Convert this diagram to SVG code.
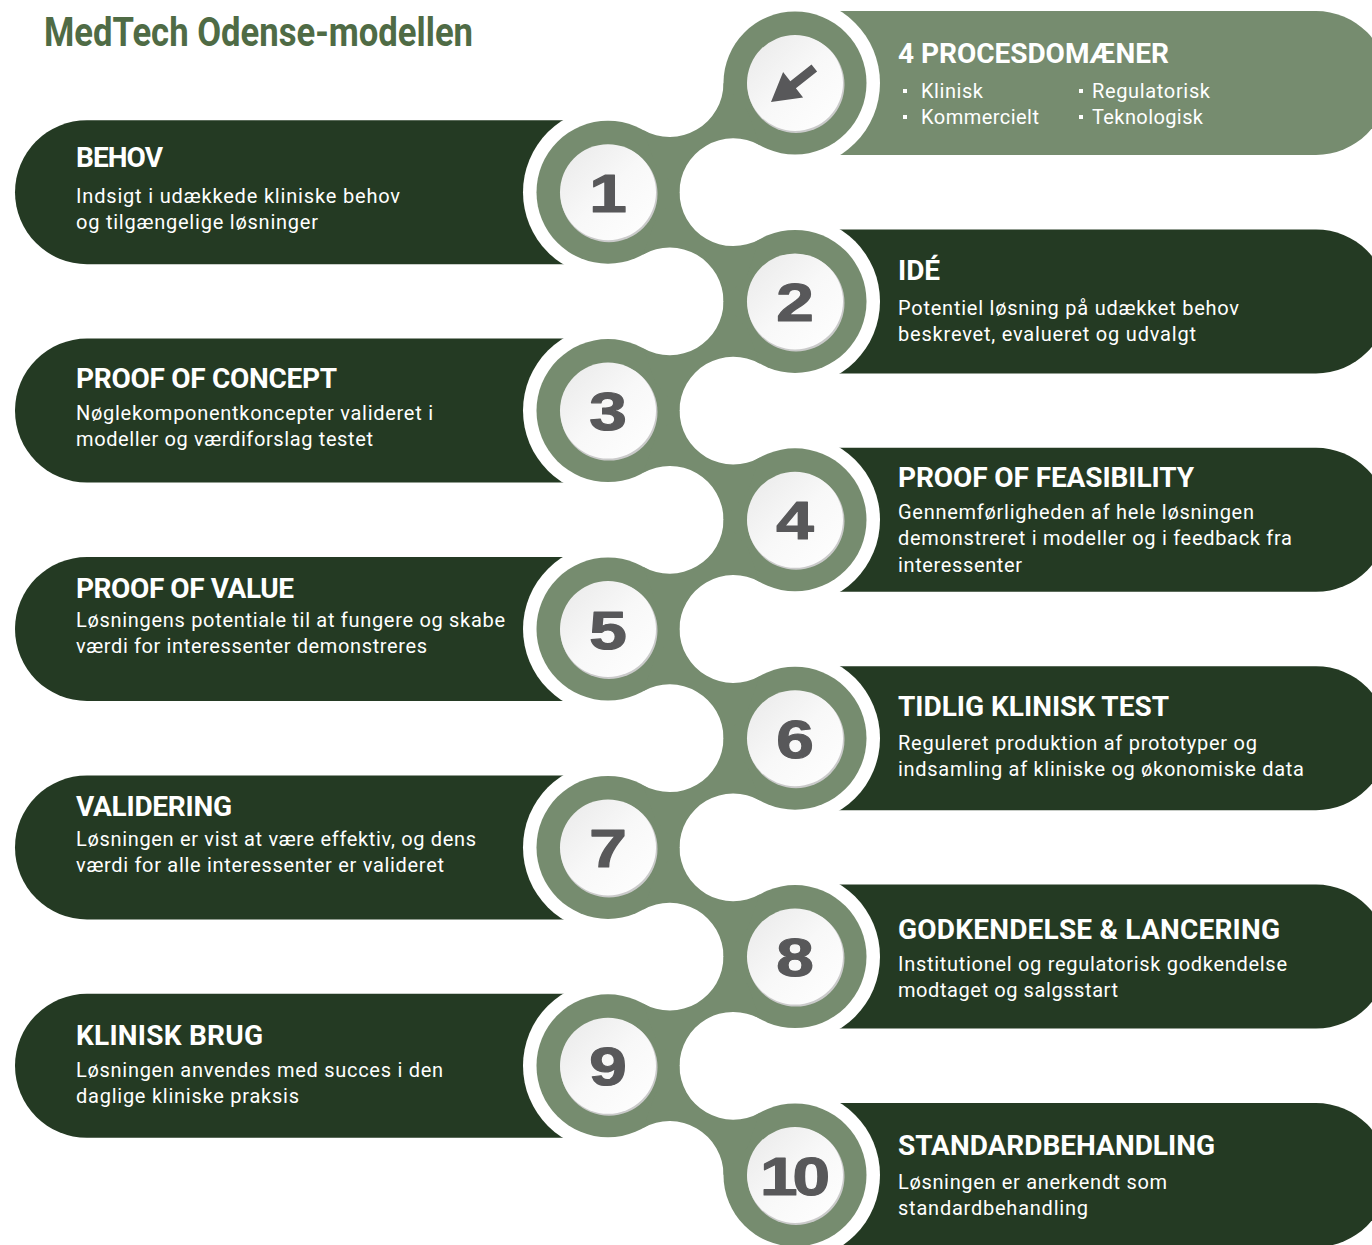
<svg xmlns="http://www.w3.org/2000/svg" xmlns:xlink="http://www.w3.org/1999/xlink" width="1372" height="1245" viewBox="0 0 1372 1245">
  <style>
    .dark { fill: #243a23; }
    .light { fill: #768c6f; }
    .title { font-family: Roboto, "Liberation Sans", sans-serif; font-weight: 700; font-size: 40px; fill: #4f6b45; }
    .head { font-family: Roboto, "Liberation Sans", sans-serif; font-weight: 700; font-size: 28px; fill: #ffffff; }
    .body { font-family: Roboto, "Liberation Sans", sans-serif; font-size: 20px; fill: #ffffff; }
    .num { font-family: "Liberation Sans", Arial, sans-serif; font-weight: 700; font-size: 54px; fill: #58585a; stroke: #58585a; stroke-width: 1.2px; stroke-linejoin: round; text-anchor: middle; }
    .neck { fill: #768c6f; }
    .bullet { fill: #ffffff; }
  </style>
  <defs>
    <linearGradient id="faceFill" x1="0" y1="0" x2="1" y2="1">
      <stop offset="0" stop-color="#e9e9e9"/>
      <stop offset="0.5" stop-color="#f8f8f8"/>
      <stop offset="1" stop-color="#ffffff"/>
    </linearGradient>
    <!-- stage banners, centred vertically on y=0 -->
    <path id="bannerL" d="M608 -72 H87 A72 72 0 0 0 87 72 H608 Z"/>
    <path id="bannerR" d="M795 -72 H1316 A72 72 0 0 1 1316 72 H795 Z"/>
    <!-- numbered dial: white gap, green ring, shaded face -->
    <g id="dial">
      <circle r="85" fill="#ffffff"/>
      <circle r="71.5" fill="#768c6f"/>
      <circle cx="1" cy="1.5" r="48.5" fill="#cacaca"/>
      <circle r="48" fill="url(#faceFill)"/>
    </g>
    <!-- neck from a right-hand dial down to the next left-hand dial -->
    <path id="neckA" d="M747.51 27.74 L759.86 62.27 A53.88 53.88 0 0 0 679.5 109.2 L655.49 81.46 L643.14 46.93 A53.88 53.88 0 0 0 723.5 0 Z"/>
    <!-- neck from a left-hand dial down to the next right-hand dial -->
    <path id="neckB" d="M655.49 27.74 L643.14 62.27 A53.88 53.88 0 0 1 723.5 109.2 L747.51 81.46 L759.86 46.93 A53.88 53.88 0 0 1 679.5 0 Z"/>
  </defs>

  <rect width="1372" height="1245" fill="#ffffff"/>

  <g id="title">
    <text class="title" x="44" y="46" textLength="429" lengthAdjust="spacingAndGlyphs">MedTech Odense-modellen</text>
  </g>

  <g id="node-domains">
    <use xlink:href="#bannerR" y="83" class="light"/>
    <use xlink:href="#dial" x="795" y="83"/>
    <polygon points="771,102 783.1,72 790.3,81.3 811.5,64.6 817.1,71.6 795.9,88.3 803.1,97.6" fill="#58585a"/>
    <text class="head" x="898" y="63" textLength="271">4 PROCESDOMÆNER</text>
    <rect class="bullet" x="903" y="89" width="4" height="4"/>
    <rect class="bullet" x="903" y="115" width="4" height="4"/>
    <rect class="bullet" x="1079" y="89" width="4" height="4"/>
    <rect class="bullet" x="1079" y="115" width="4" height="4"/>
    <text class="body" x="921" y="98" textLength="62">Klinisk</text>
    <text class="body" x="921" y="124" textLength="118">Kommercielt</text>
    <text class="body" x="1092" y="98" textLength="118">Regulatorisk</text>
    <text class="body" x="1092" y="124" textLength="111">Teknologisk</text>
  </g>

  <g id="node-1">
    <use xlink:href="#bannerL" y="192.2" class="dark"/>
    <use xlink:href="#dial" x="608" y="192.2"/>
    <text class="num" transform="translate(608 192.2) scale(1.25 1)" y="19.5">1</text>
    <text class="head" x="76" y="167" textLength="87">BEHOV</text>
    <text class="body" x="76" y="202.5" textLength="324">Indsigt i udækkede kliniske behov</text>
    <text class="body" x="76" y="228.5" textLength="242">og tilgængelige løsninger</text>
  </g>

  <g id="node-2">
    <use xlink:href="#bannerR" y="301.4" class="dark"/>
    <use xlink:href="#dial" x="795" y="301.4"/>
    <text class="num" transform="translate(795 301.4) scale(1.25 1)" y="19.5">2</text>
    <text class="head" x="898" y="280" textLength="42">IDÉ</text>
    <text class="body" x="898" y="314.5" textLength="341">Potentiel løsning på udækket behov</text>
    <text class="body" x="898" y="340.5" textLength="298">beskrevet, evalueret og udvalgt</text>
  </g>

  <g id="node-3">
    <use xlink:href="#bannerL" y="410.6" class="dark"/>
    <use xlink:href="#dial" x="608" y="410.6"/>
    <text class="num" transform="translate(608 410.6) scale(1.25 1)" y="19.5">3</text>
    <text class="head" x="76" y="388" textLength="261">PROOF OF CONCEPT</text>
    <text class="body" x="76" y="419.5" textLength="357">Nøglekomponentkoncepter valideret i</text>
    <text class="body" x="76" y="445.5" textLength="297">modeller og værdiforslag testet</text>
  </g>

  <g id="node-4">
    <use xlink:href="#bannerR" y="519.8" class="dark"/>
    <use xlink:href="#dial" x="795" y="519.8"/>
    <text class="num" transform="translate(795 519.8) scale(1.25 1)" y="19.5">4</text>
    <text class="head" x="898" y="487" textLength="296">PROOF OF FEASIBILITY</text>
    <text class="body" x="898" y="518.5" textLength="356">Gennemførligheden af hele løsningen</text>
    <text class="body" x="898" y="544.5" textLength="394">demonstreret i modeller og i feedback fra</text>
    <text class="body" x="898" y="571.5" textLength="124">interessenter</text>
  </g>

  <g id="node-5">
    <use xlink:href="#bannerL" y="629" class="dark"/>
    <use xlink:href="#dial" x="608" y="629"/>
    <text class="num" transform="translate(608 629) scale(1.25 1)" y="19.5">5</text>
    <text class="head" x="76" y="598" textLength="218">PROOF OF VALUE</text>
    <text class="body" x="76" y="626.5" textLength="429">Løsningens potentiale til at fungere og skabe</text>
    <text class="body" x="76" y="652.5" textLength="351">værdi for interessenter demonstreres</text>
  </g>

  <g id="node-6">
    <use xlink:href="#bannerR" y="738.2" class="dark"/>
    <use xlink:href="#dial" x="795" y="738.2"/>
    <text class="num" transform="translate(795 738.2) scale(1.25 1)" y="19.5">6</text>
    <text class="head" x="898" y="716" textLength="271">TIDLIG KLINISK TEST</text>
    <text class="body" x="898" y="749.5" textLength="359">Reguleret produktion af prototyper og</text>
    <text class="body" x="898" y="775.5" textLength="406">indsamling af kliniske og økonomiske data</text>
  </g>

  <g id="node-7">
    <use xlink:href="#bannerL" y="847.4" class="dark"/>
    <use xlink:href="#dial" x="608" y="847.4"/>
    <text class="num" transform="translate(608 847.4) scale(1.25 1)" y="19.5">7</text>
    <text class="head" x="76" y="816" textLength="156">VALIDERING</text>
    <text class="body" x="76" y="845.5" textLength="400">Løsningen er vist at være effektiv, og dens</text>
    <text class="body" x="76" y="871.5" textLength="368">værdi for alle interessenter er valideret</text>
  </g>

  <g id="node-8">
    <use xlink:href="#bannerR" y="956.6" class="dark"/>
    <use xlink:href="#dial" x="795" y="956.6"/>
    <text class="num" transform="translate(795 956.6) scale(1.25 1)" y="19.5">8</text>
    <text class="head" x="898" y="939" textLength="382">GODKENDELSE &amp; LANCERING</text>
    <text class="body" x="898" y="970.5" textLength="389">Institutionel og regulatorisk godkendelse</text>
    <text class="body" x="898" y="996.5" textLength="220">modtaget og salgsstart</text>
  </g>

  <g id="node-9">
    <use xlink:href="#bannerL" y="1065.8" class="dark"/>
    <use xlink:href="#dial" x="608" y="1065.8"/>
    <text class="num" transform="translate(608 1065.8) scale(1.25 1)" y="19.5">9</text>
    <text class="head" x="76" y="1045" textLength="187">KLINISK BRUG</text>
    <text class="body" x="76" y="1076.5" textLength="367">Løsningen anvendes med succes i den</text>
    <text class="body" x="76" y="1102.5" textLength="223">daglige kliniske praksis</text>
  </g>

  <g id="node-10">
    <use xlink:href="#bannerR" y="1175" class="dark"/>
    <use xlink:href="#dial" x="795" y="1175"/>
    <text class="num" transform="translate(795 1175) scale(1.25 1)" x="-2" y="19.5" letter-spacing="-4">10</text>
    <text class="head" x="898" y="1155" textLength="317">STANDARDBEHANDLING</text>
    <text class="body" x="898" y="1188.5" textLength="269">Løsningen er anerkendt som</text>
    <text class="body" x="898" y="1214.5" textLength="190">standardbehandling</text>
  </g>

  <!-- necks joining consecutive dials into one chain -->
  <g id="connectors" class="neck">
    <use xlink:href="#neckA" y="83"/>
    <use xlink:href="#neckB" y="192.2"/>
    <use xlink:href="#neckA" y="301.4"/>
    <use xlink:href="#neckB" y="410.6"/>
    <use xlink:href="#neckA" y="519.8"/>
    <use xlink:href="#neckB" y="629"/>
    <use xlink:href="#neckA" y="738.2"/>
    <use xlink:href="#neckB" y="847.4"/>
    <use xlink:href="#neckA" y="956.6"/>
    <use xlink:href="#neckB" y="1065.8"/>
  </g>
</svg>
